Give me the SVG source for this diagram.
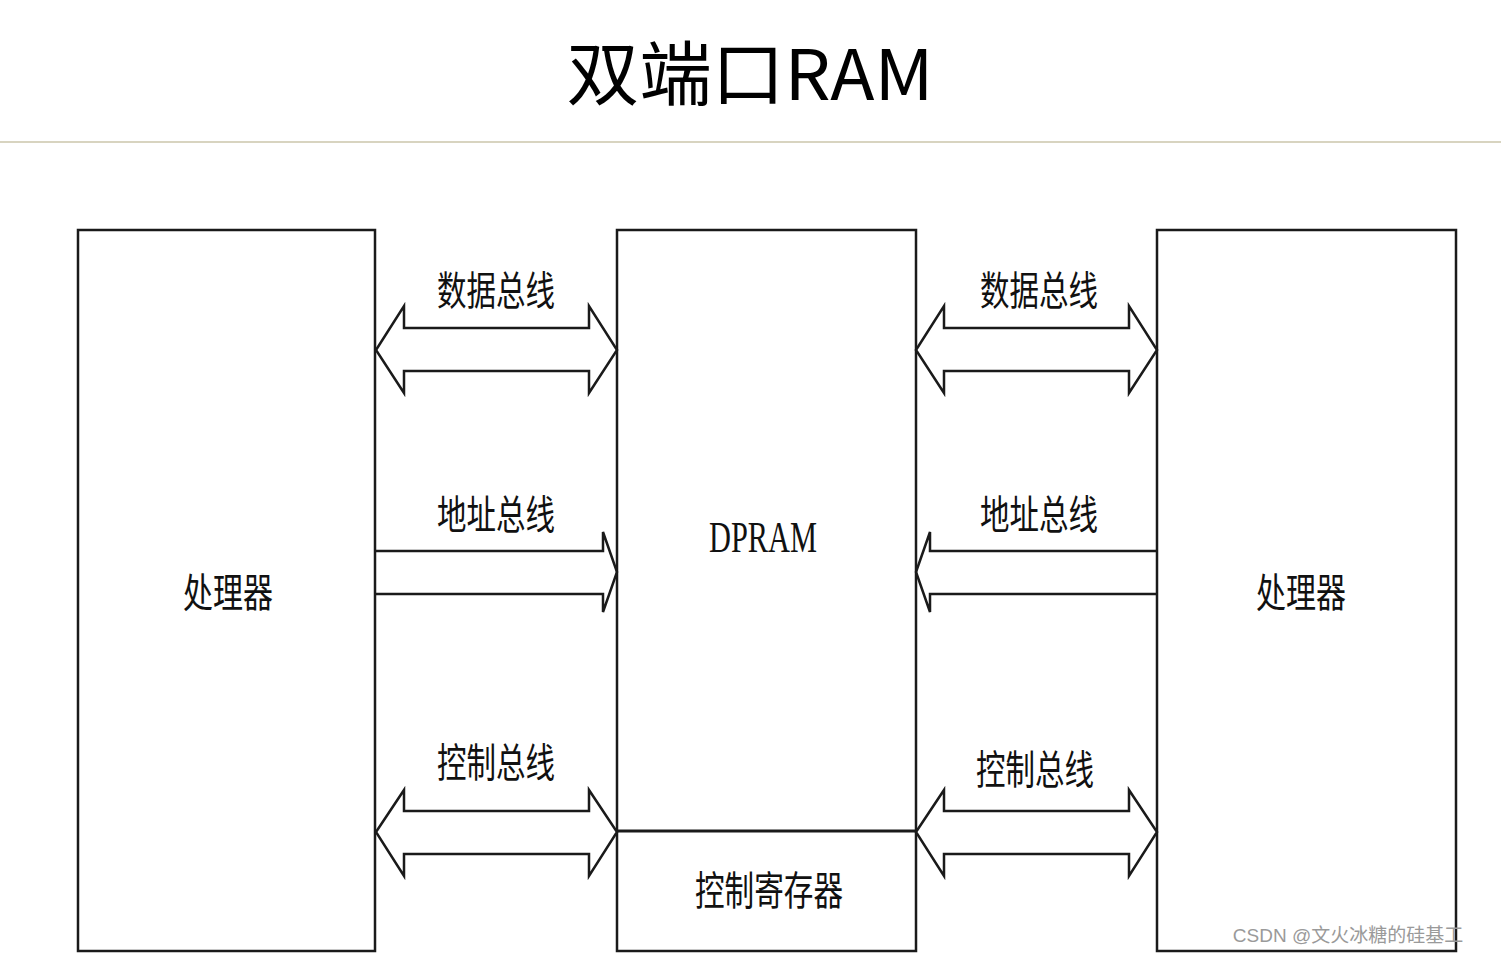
<svg xmlns="http://www.w3.org/2000/svg" width="1501" height="954" viewBox="0 0 1501 954">
<style>
.box{fill:#fff;stroke:#1a1a1a;stroke-width:2.5}
.arr{fill:#fff;stroke:#1a1a1a;stroke-width:2.5;stroke-linejoin:miter}
.arro{fill:none;stroke:#1a1a1a;stroke-width:2.5;stroke-linejoin:miter}
.lbl{font-family:"Noto Sans CJK SC","Liberation Serif",serif;font-size:40px;fill:#111;text-anchor:middle}
.dp{font-family:"Liberation Serif",serif;font-size:44px;fill:#111;text-anchor:middle}
</style>
<rect width="1501" height="954" fill="#fff"/>
<g id="title">
<text x="750" y="100" font-family="'Noto Sans CJK SC',sans-serif" font-size="70" fill="#000" text-anchor="middle" textLength="367" lengthAdjust="spacingAndGlyphs">双端口RAM</text>
<line x1="0" y1="142" x2="1501" y2="142" stroke="#d8d4c0" stroke-width="2"/>
</g>
<g id="cpu-left">
<rect class="box" x="78" y="230" width="297" height="721"/>
<text class="lbl" x="228" y="607" textLength="90" lengthAdjust="spacingAndGlyphs">处理器</text>
</g>
<g id="dpram">
<rect class="box" x="617" y="230" width="299" height="721"/>
<text class="dp" x="763" y="552" textLength="108" lengthAdjust="spacingAndGlyphs">DPRAM</text>
</g>
<g id="ctrl-reg">
<line x1="617" y1="831" x2="916" y2="831" stroke="#1a1a1a" stroke-width="3"/>
<text class="lbl" x="769" y="905" textLength="148" lengthAdjust="spacingAndGlyphs">控制寄存器</text>
</g>
<g id="cpu-right">
<rect class="box" x="1157" y="230" width="299" height="721"/>
<text class="lbl" x="1301" y="607" textLength="90" lengthAdjust="spacingAndGlyphs">处理器</text>
</g>
<g id="connectors">
<polygon class="arr" points="376,350 404,306 404,328 589,328 589,306 617,350 589,393 589,371 404,371 404,393"/>
<polygon class="arr" points="916,350 944,306 944,328 1129,328 1129,306 1157,350 1129,393 1129,371 944,371 944,393"/>
<polyline class="arro" points="376,551 603,551 603,532 617,572 603,612 603,594 376,594"/>
<polyline class="arro" points="1157,551 930,551 930,532 916,572 930,612 930,594 1157,594"/>
<polygon class="arr" points="376,832 404,790 404,811 589,811 589,790 617,832 589,876 589,854 404,854 404,876"/>
<polygon class="arr" points="916,832 944,790 944,811 1129,811 1129,790 1157,832 1129,876 1129,854 944,854 944,876"/>
</g>
<g id="labels">
<text class="lbl" x="496" y="305" textLength="118" lengthAdjust="spacingAndGlyphs">数据总线</text>
<text class="lbl" x="1039" y="305" textLength="118" lengthAdjust="spacingAndGlyphs">数据总线</text>
<text class="lbl" x="496" y="529" textLength="118" lengthAdjust="spacingAndGlyphs">地址总线</text>
<text class="lbl" x="1039" y="529" textLength="118" lengthAdjust="spacingAndGlyphs">地址总线</text>
<text class="lbl" x="496" y="777" textLength="118" lengthAdjust="spacingAndGlyphs">控制总线</text>
<text class="lbl" x="1035" y="784" textLength="118" lengthAdjust="spacingAndGlyphs">控制总线</text>
</g>
<text x="1348" y="942" font-family="'Liberation Sans','Noto Sans CJK SC',sans-serif" font-size="19" fill="#9a9a9a" text-anchor="middle">CSDN @文火冰糖的硅基工</text>
</svg>
